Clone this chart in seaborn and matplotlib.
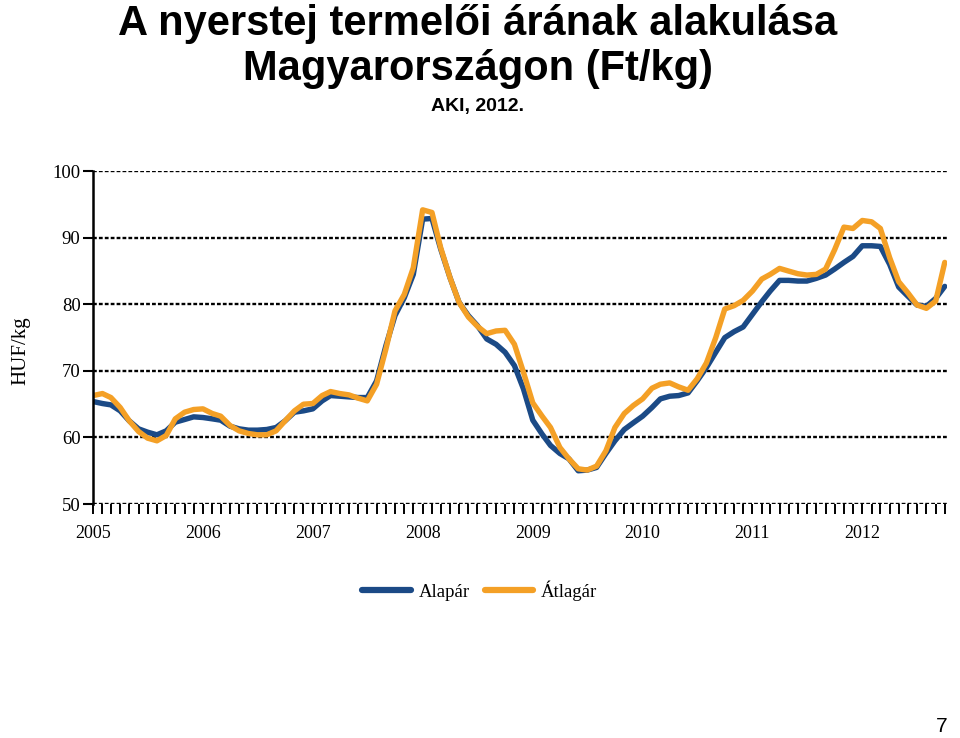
import pandas as pd
import seaborn as sns
import matplotlib.pyplot as plt
import matplotlib.dates as mdates
from matplotlib import font_manager

# Havi nyerstej árak (HUF/kg), 2005 jan - 2012 okt
honapok = pd.date_range('2005-01-01', '2012-10-01', freq='MS')

alapar = [
    65.4, 65.1, 64.9, 64.0, 62.5, 61.3, 60.8, 60.4, 61.0, 62.3, 62.7, 63.1,
    63.0, 62.8, 62.6, 61.7, 61.3, 61.1, 61.1, 61.2, 61.5, 62.5, 63.8, 64.0,
    64.3, 65.5, 66.3, 66.2, 66.1, 66.0, 66.0, 68.5, 73.8, 78.3, 81.0, 84.5,
    92.8, 92.9, 88.3, 84.0, 80.3, 78.3, 76.8, 74.8, 74.0, 72.8, 70.8, 67.3,
    62.6, 60.5, 58.8, 57.6, 56.8, 55.0, 55.1, 55.5, 57.6, 59.5, 61.2, 62.2,
    63.2, 64.5, 65.8, 66.2, 66.3, 66.7, 68.5, 70.5, 72.8, 75.0, 75.9, 76.6,
    78.5, 80.4, 82.0, 83.6, 83.6, 83.5, 83.5, 83.9, 84.4, 85.3, 86.3, 87.2,
    88.8, 88.8, 88.7, 86.0, 82.6, 81.2, 79.9, 79.7, 80.9, 82.7,
]
atlagar = [
    66.3, 66.6, 66.0, 64.5, 62.5, 60.9, 59.9, 59.5, 60.3, 62.8, 63.8, 64.2,
    64.3, 63.6, 63.2, 61.8, 61.0, 60.6, 60.4, 60.4, 61.0, 62.5, 64.0, 65.0,
    65.1, 66.3, 66.9, 66.6, 66.4, 65.9, 65.5, 68.0, 73.3, 79.0, 81.5, 85.5,
    94.2, 93.8, 88.5, 84.0, 80.3, 78.1, 76.7, 75.6, 76.0, 76.1, 74.0, 69.8,
    65.2, 63.2, 61.5, 58.5, 56.8, 55.3, 55.1, 55.7, 58.0, 61.5, 63.6, 64.8,
    65.8, 67.4, 68.0, 68.2, 67.6, 67.1, 68.8, 71.2, 75.0, 79.3, 79.8, 80.6,
    82.0, 83.8, 84.5, 85.4, 85.0, 84.6, 84.4, 84.5, 85.3, 88.2, 91.6, 91.4,
    92.6, 92.4, 91.4, 87.0, 83.4, 81.7, 79.9, 79.4, 80.5, 86.3,
]
sorozatok = ['Alapár', 'Átlagár']
szinek = ['#1b4a86', '#f4a026']

df = pd.DataFrame({'honap': list(honapok) * 2,
                   'ar': alapar + atlagar,
                   'sorozat': ['Alapár'] * len(alapar) + ['Átlagár'] * len(atlagar)})

sns.set_style('white')
plt.rcParams.update({'text.color': 'black', 'axes.labelcolor': 'black',
                     'xtick.color': 'black', 'ytick.color': 'black'})
names = {f.name for f in font_manager.fontManager.ttflist}
cim_font = ['Liberation Sans Narrow'] if 'Liberation Sans Narrow' in names else ['Liberation Sans']
serif = ['Liberation Serif', 'DejaVu Serif']

fig = plt.figure(figsize=(9.6, 7.38), dpi=100)
ax = fig.add_axes([0.097, 0.317, 0.889, 0.451])

sns.lineplot(data=df, x='honap', y='ar', hue='sorozat', hue_order=sorozatok,
             palette=szinek, linewidth=3.9, ax=ax)

ax.set_ylim(50, 100)
ax.set_yticks(range(50, 101, 10))
ax.set_xlim(honapok[0], honapok[-1] + pd.Timedelta(days=6))
ax.xaxis.set_major_locator(mdates.YearLocator())
ax.xaxis.set_major_formatter(mdates.DateFormatter('%Y'))
ax.xaxis.set_minor_locator(mdates.MonthLocator())

# pontozott rácsvonalak
for y in range(50, 101, 10):
    ax.axhline(y, color='black', lw=1.7, ls=(0, (1.6, 0.9)), zorder=0)

for s in ['top', 'right', 'bottom']:
    ax.spines[s].set_visible(False)
ax.spines['left'].set_color('black')
ax.spines['left'].set_linewidth(1.8)

ax.tick_params(axis='y', left=True, length=7, width=1.5, color='black',
               labelsize=13.5, pad=2)
ax.tick_params(axis='x', which='both', bottom=True, length=7, width=1.4,
               color='black', labelsize=13, pad=8, direction='out')
for lab in ax.get_xticklabels() + ax.get_yticklabels():
    lab.set_family(serif)

ax.set_xlabel('')
ax.set_ylabel('HUF/kg', family=serif, fontsize=15)
ax.yaxis.set_label_coords(-0.074, 0.462)

sns.move_legend(ax, 'center', bbox_to_anchor=(0.453, -0.26), ncol=2,
                frameon=False, title=None, prop={'family': serif, 'size': 13.5},
                handlelength=2.6, columnspacing=0.8, handletextpad=0.4)
for line in ax.get_legend().get_lines():
    line.set_linewidth(4.5)

fig.text(0.498, 0.995, 'A nyerstej termelői árának alakulása', ha='center', va='top',
         fontsize=30, fontweight='bold', family=cim_font)
fig.text(0.498, 0.933, 'Magyarországon (Ft/kg)', ha='center', va='top',
         fontsize=30, fontweight='bold', family=cim_font)
fig.text(0.497, 0.867, 'AKI, 2012.', ha='center', va='top',
         fontsize=14, fontweight='bold', family=cim_font)
fig.text(0.987, 0.003, '7', ha='right', va='bottom', fontsize=15, family=['Liberation Sans'])

plt.savefig('out.png', dpi=100)
